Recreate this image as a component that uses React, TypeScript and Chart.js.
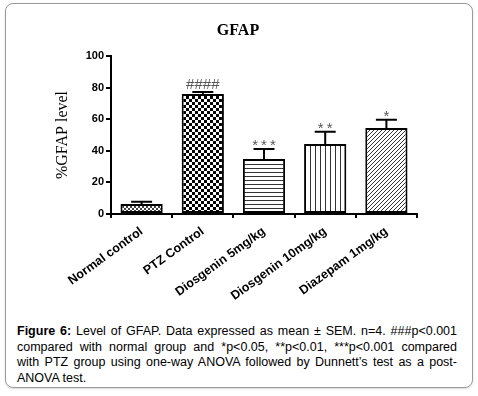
import React, { useEffect, useRef } from "react";
import { Chart, registerables } from "chart.js";

Chart.register(...registerables);

const chartTitle = "GFAP";
const yAxisTitle = "%GFAP level";
const categories = ["Normal control", "PTZ Control", "Diosgenin 5mg/kg", "Diosgenin 10mg/kg", "Diazepam 1mg/kg"];
const meanValues = [6.3, 76, 34.8, 44.3, 54.4];
const semValues = [1.5, 1.2, 6.3, 7.8, 5.3];
const significance = ["", "####", "***", "**", "*"];
const yTicks = [0, 20, 40, 60, 80, 100];
const captionLines = [
  "Level of GFAP. Data expressed as mean ± SEM. n=4. ###p<0.001",
  "compared with normal group and *p<0.05, **p<0.01, ***p<0.001 compared",
  "with PTZ group using one-way ANOVA followed by Dunnett’s test as a post-",
  "ANOVA test.",
];

const SANS = "'Liberation Sans', Arial, sans-serif";
const SERIF = "'Liberation Serif', 'Times New Roman', serif";

function makePattern(kind: string): CanvasPattern | string {
  const c = document.createElement("canvas");
  const ctx = c.getContext("2d")!;
  if (kind === "fine") {
    c.width = 4; c.height = 4;
    ctx.fillStyle = "#fff"; ctx.fillRect(0, 0, 4, 4);
    ctx.fillStyle = "#444";
    ctx.fillRect(0, 0, 2, 2); ctx.fillRect(2, 2, 2, 2);
  } else if (kind === "checker") {
    c.width = 6; c.height = 6;
    ctx.fillStyle = "#fff"; ctx.fillRect(0, 0, 6, 6);
    ctx.fillStyle = "#000";
    ctx.fillRect(0, 0, 3, 3); ctx.fillRect(3, 3, 3, 3);
  } else if (kind === "hlines") {
    c.width = 4; c.height = 4;
    ctx.fillStyle = "#fff"; ctx.fillRect(0, 0, 4, 4);
    ctx.fillStyle = "#333"; ctx.fillRect(0, 0, 4, 1);
  } else if (kind === "vlines") {
    c.width = 5; c.height = 5;
    ctx.fillStyle = "#fff"; ctx.fillRect(0, 0, 5, 5);
    ctx.fillStyle = "#333"; ctx.fillRect(0, 0, 1, 5);
  } else {
    c.width = 4; c.height = 4;
    ctx.fillStyle = "#fff"; ctx.fillRect(0, 0, 4, 4);
    ctx.strokeStyle = "#333"; ctx.lineWidth = 1;
    ctx.beginPath();
    ctx.moveTo(0, 4); ctx.lineTo(4, 0);
    ctx.moveTo(-1, 1); ctx.lineTo(1, -1);
    ctx.moveTo(3, 5); ctx.lineTo(5, 3);
    ctx.stroke();
  }
  return ctx.createPattern(c, "repeat") || "#888";
}

const titlePlugin = {
  id: "centeredTitle",
  afterDraw(chart: any) {
    const ctx = chart.ctx;
    ctx.save();
    ctx.fillStyle = "#000";
    ctx.font = `bold 16px ${SERIF}`;
    ctx.textAlign = "center";
    ctx.textBaseline = "middle";
    ctx.fillText(chartTitle, 238, 31);
    ctx.restore();
  },
};

const errorBarPlugin = {
  id: "errorBars",
  afterDatasetsDraw(chart: any) {
    const ctx = chart.ctx;
    const meta = chart.getDatasetMeta(0);
    const yScale = chart.scales.y;
    ctx.save();
    meta.data.forEach((bar: any, i: number) => {
      const x = bar.x;
      const top = yScale.getPixelForValue(meanValues[i]);
      const errY = yScale.getPixelForValue(meanValues[i] + semValues[i]);
      ctx.strokeStyle = "#000";
      ctx.lineWidth = 2;
      ctx.beginPath();
      ctx.moveTo(x, top);
      ctx.lineTo(x, errY);
      ctx.moveTo(x - 10.5, errY);
      ctx.lineTo(x + 10.5, errY);
      ctx.stroke();
      const label = significance[i];
      if (label) {
        ctx.fillStyle = "#555";
        ctx.textAlign = "center";
        ctx.textBaseline = "alphabetic";
        ctx.font = `15px ${SANS}`;
        if (label.startsWith("#")) {
          try { (ctx as any).letterSpacing = "0px"; } catch (e) {}
          ctx.fillText(label, x, errY - 3);
        } else {
          try { (ctx as any).letterSpacing = "3px"; } catch (e) {}
          ctx.fillText(label, x + 1.5, errY + 1);
          try { (ctx as any).letterSpacing = "0px"; } catch (e) {}
        }
      }
    });
    ctx.restore();
  },
};

function GfapChart() {
  const ref = useRef<HTMLCanvasElement>(null);
  useEffect(() => {
    if (!ref.current) return;
    const fills = [makePattern("fine"), makePattern("checker"), makePattern("hlines"), makePattern("vlines"), makePattern("diag")];
    const chart = new Chart(ref.current, {
      type: "bar",
      data: {
        labels: categories,
        datasets: [
          {
            data: meanValues,
            backgroundColor: fills as any,
            borderColor: "#000",
            borderWidth: 2,
            borderSkipped: false,
            categoryPercentage: 1,
            barPercentage: 0.69,
          },
        ],
      },
      options: {
        animation: false,
        responsive: false,
        devicePixelRatio: 1,
        layout: { padding: { left: 0, right: 61, top: 56, bottom: 0 } },
        plugins: {
          legend: { display: false },
          tooltip: { enabled: false },
          title: { display: false },
        },
        scales: {
          x: {
            offset: true,
            grid: { display: true, drawOnChartArea: false, drawTicks: true, tickLength: 4, color: "#000", lineWidth: 2 },
            border: { display: true, color: "#000", width: 2 },
            ticks: {
              color: "#000",
              font: { family: SANS, size: 12.5, weight: "bold" },
              maxRotation: 36,
              minRotation: 36,
              padding: 6,
            },
            afterFit: (s: any) => { s.height = 106; },
          },
          y: {
            min: 0,
            max: 100,
            afterBuildTicks: (s: any) => { s.ticks = yTicks.map((v) => ({ value: v })); },
            grid: { display: true, drawOnChartArea: false, drawTicks: true, tickLength: 5, color: "#000", lineWidth: 2 },
            border: { display: true, color: "#000", width: 2 },
            ticks: {
              color: "#000",
              font: { family: SANS, size: 11, weight: "bold" },
              padding: 2,
            },
            title: {
              display: true,
              text: yAxisTitle,
              color: "#000",
              font: { family: SERIF, size: 16 },
              padding: { top: 53, bottom: 0 },
            },
            afterFit: (s: any) => { s.width = 111; },
          },
        },
      },
      plugins: [errorBarPlugin, titlePlugin],
    });
    return () => chart.destroy();
  }, []);
  return <canvas ref={ref} width={478} height={320} style={{ position: "absolute", left: 0, top: 0 }} />;
}

export default function App() {
  return (
    <div style={{ position: "absolute", left: 0, top: 0, width: 478, height: 396, background: "#fff", overflow: "hidden" }}>
      <div
        style={{
          position: "absolute",
          left: 5,
          top: 3,
          width: 468,
          height: 385,
          boxSizing: "border-box",
          border: "1px solid #9a9a9a",
          borderRadius: 8,
          boxShadow: "0 1px 2px rgba(0,0,0,0.15)",
        }}
      />
      <GfapChart />
      <div
        style={{
          position: "absolute",
          left: 17,
          top: 324,
          width: 440,
          fontFamily: SANS,
          fontSize: 12.5,
          lineHeight: "15.5px",
          color: "#000",
        }}
      >
        {captionLines.map((line, i) => (
          <div
            key={i}
            style={{
              whiteSpace: "nowrap",
              textAlign: i < captionLines.length - 1 ? "justify" : "left",
              textAlignLast: i < captionLines.length - 1 ? "justify" : "left",
            } as any}
          >
            {i === 0 ? <b>Figure 6: </b> : null}
            {line}
          </div>
        ))}
      </div>
    </div>
  );
}
